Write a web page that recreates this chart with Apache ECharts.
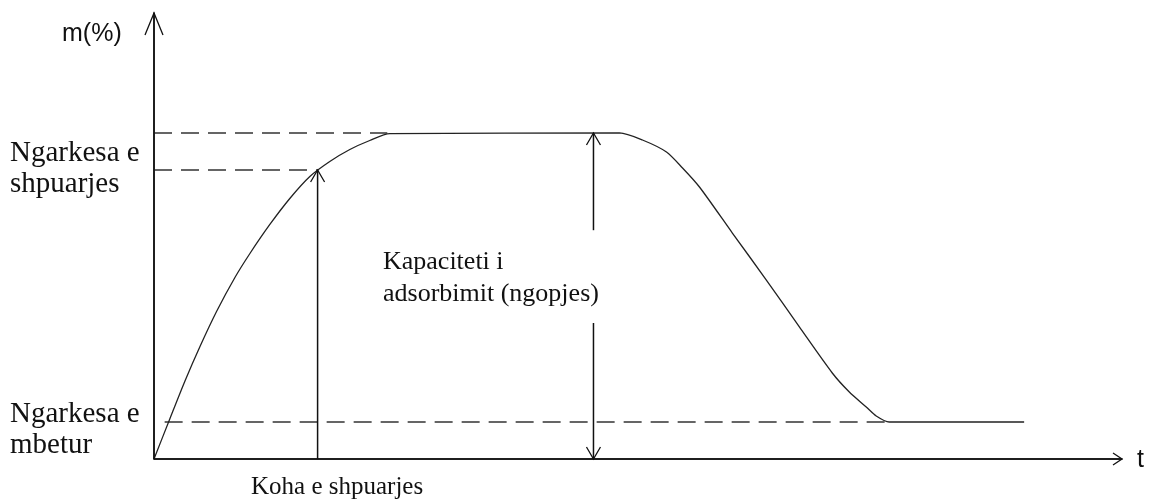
<!DOCTYPE html>
<html>
<head>
<meta charset="utf-8">
<script src="https://cdn.jsdelivr.net/npm/echarts@6/dist/echarts.min.js"></script>
<style>
  html, body { margin: 0; padding: 0; background: #fff; }
  #chart { width: 1151px; height: 501px; }
</style>
</head>
<body>
<div id="chart"></div>
<script>
  // breakthrough curve (t and m in arbitrary units, 0..100)
  const curveT = [0, 1.65, 3.2, 4.75, 6.5, 8.36, 9.91, 11.97, 14.03, 16.1, 18.16, 20.23, 22.29, 24.36,
    48.09, 50.46, 52.94, 54.6, 56.35, 59.75, 63.26, 66.67, 70.07, 71.83, 73.58, 74.61, 75.95, 89.89]
  const curveM = [0, 9.08, 17.49, 25.22, 33.23, 40.7, 46.08, 52.58, 58.41, 63.34, 66.7, 69.39, 71.41, 72.95,
    73.1, 71.52, 68.83, 65.25, 60.99, 50.67, 40.13, 29.6, 19.28, 15.02, 11.66, 9.64, 8.3, 8.3]

  const saturation = 73.1     // Kapaciteti i adsorbimit
  const breakthrough = 64.8   // Ngarkesa e shpuarjes
  const residual = 8.3        // Ngarkesa e mbetur
  const tBreak = 16.9         // Koha e shpuarjes
  const tCap = 45.4           // double arrow position
  const capGap = [30.5, 51.3] // where the double arrow is broken for its label

  // reference lines: [x0, x1, y]
  const dashLines = [
    [0, 24.1, saturation],
    [0, tBreak, breakthrough],
    [1.1, 76.0, residual]
  ]

  // arrows: x0, y0, x1, y1, head length, head half width, heads at both ends (1) or end only (0)
  const arrows = [
    [0, 0, 0, 100, 22, 9, 0],
    [0, 0, 100, 0, 9, 6, 0],
    [tBreak, 0, tBreak, breakthrough, 12, 7, 0],
    [tCap, capGap[1], tCap, saturation, 12, 7, 0],
    [tCap, capGap[0], tCap, 0, 12, 7, 0]
  ]

  const chart = echarts.init(document.getElementById('chart'))

  function chevron (tip, from, len, half) {
    let dx = tip[0] - from[0]
    let dy = tip[1] - from[1]
    const d = Math.sqrt(dx * dx + dy * dy) || 1
    dx /= d
    dy /= d
    const nx = -dy
    const ny = dx
    return {
      type: 'polyline',
      shape: {
        points: [
          [tip[0] - dx * len + nx * half, tip[1] - dy * len + ny * half],
          tip,
          [tip[0] - dx * len - nx * half, tip[1] - dy * len - ny * half]
        ]
      },
      style: { stroke: '#111', lineWidth: 1.3, fill: null }
    }
  }

  const serif = 'Liberation Serif'
  const sans = 'Liberation Sans'

  // text is placed by the vertical middle of its line
  function label (text, x, y, font, size) {
    return {
      type: 'text',
      x: x,
      y: y,
      style: {
        text: text,
        font: size + 'px "' + font + '"',
        fill: '#111',
        verticalAlign: 'middle'
      }
    }
  }

  chart.setOption({
    animation: false,
    grid: { left: 154, right: 29, top: 13, bottom: 42 },
    xAxis: {
      type: 'value', min: 0, max: 100,
      axisLine: { show: true, onZero: false, lineStyle: { color: '#111', width: 1.5 } },
      axisTick: { show: false }, axisLabel: { show: false }, splitLine: { show: false }
    },
    yAxis: {
      type: 'value', min: 0, max: 100,
      axisLine: { show: true, onZero: false, lineStyle: { color: '#111', width: 1.5 } },
      axisTick: { show: false }, axisLabel: { show: false }, splitLine: { show: false }
    },
    series: [
      {
        type: 'line',
        data: curveT.map((t, i) => [t, curveM[i]]),
        smooth: 0.25,
        showSymbol: false,
        lineStyle: { color: '#222', width: 1.3 },
        z: 3
      },
      ...dashLines.map(d => ({
        type: 'line',
        data: [[d[0], d[2]], [d[1], d[2]]],
        showSymbol: false,
        lineStyle: { color: '#333', width: 1.5, type: [18, 9] },
        z: 2
      })),
      {
        type: 'custom',
        data: arrows,
        encode: { x: [0, 2], y: [1, 3] },
        renderItem: function (params, api) {
          const p0 = api.coord([api.value(0), api.value(1)])
          const p1 = api.coord([api.value(2), api.value(3)])
          const len = api.value(4)
          const half = api.value(5)
          const children = [
            {
              type: 'line',
              shape: { x1: p0[0], y1: p0[1], x2: p1[0], y2: p1[1] },
              style: { stroke: '#111', lineWidth: 1.5 }
            },
            chevron(p1, p0, len, half)
          ]
          if (api.value(6)) children.push(chevron(p0, p1, len, half))
          return { type: 'group', children: children }
        },
        z: 4
      }
    ],
    graphic: [
      label('m(%)', 62, 34, sans, 25),
      label('t', 1137, 460, sans, 25),
      label('Ngarkesa e', 10, 153, serif, 29),
      label('shpuarjes', 10, 184, serif, 29),
      label('Ngarkesa e', 10, 414, serif, 29),
      label('mbetur', 10, 445, serif, 29),
      label('Koha e shpuarjes', 251, 487, serif, 25),
      label('Kapaciteti i', 383, 262, serif, 26),
      label('adsorbimit (ngopjes)', 383, 294, serif, 26)
    ]
  })
</script>
</body>
</html>
